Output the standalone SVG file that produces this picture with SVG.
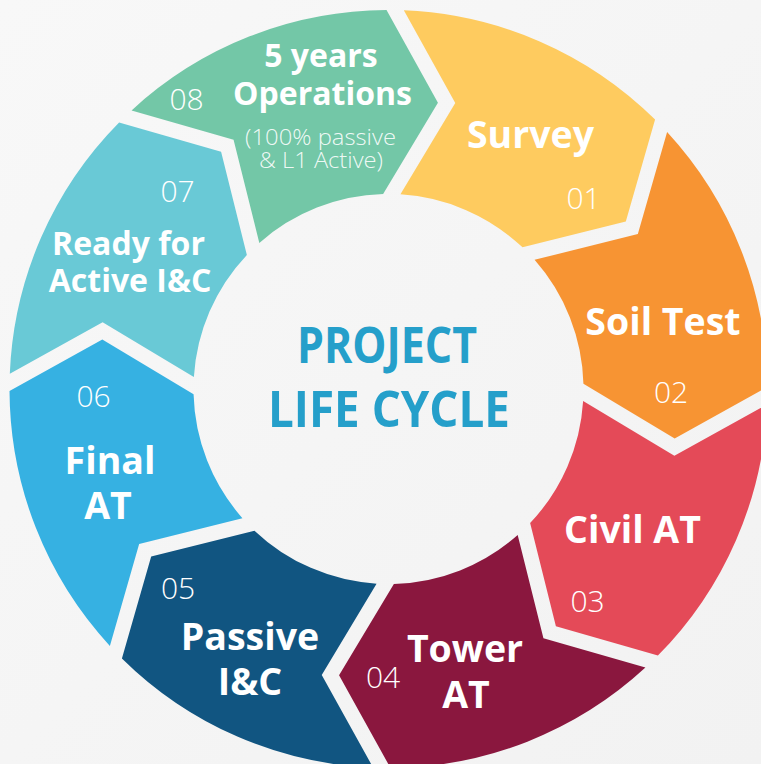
<svg xmlns="http://www.w3.org/2000/svg" xmlns:xlink="http://www.w3.org/1999/xlink" width="761" height="764" viewBox="0 0 761 764">
<defs>
<linearGradient id="bg" x1="0" y1="0" x2="1" y2="1">
<stop offset="0" stop-color="#f8f8f8"/>
<stop offset="1" stop-color="#f2f2f2"/>
</linearGradient>
<path id="seg" d="M378.9,8.72 A379,379 0 0,1 274.0,261.84 L171.52,234.36 L143.95,131.55 A195,195 0 0,0 194.81,8.55 L287,61.76 Z"/>
<style>
.lbl{font-family:"Open Sans","Liberation Sans",sans-serif;font-weight:700;font-size:37.5px;fill:#ffffff;text-anchor:middle}
.lbl32{font-size:32px}
.num{font-family:"Open Sans","Liberation Sans",sans-serif;font-weight:300;font-size:30px;fill:#ffffff;text-anchor:middle}
.sub{font-family:"Open Sans","Liberation Sans",sans-serif;font-weight:300;font-size:22px;fill:#ffffff;fill-opacity:0.9;text-anchor:middle}
.ctr{font-family:"Open Sans","Liberation Sans",sans-serif;font-weight:700;font-size:51px;fill:#259fca;text-anchor:middle}
</style>
</defs>
<rect x="0" y="0" width="761" height="764" fill="url(#bg)"/>
<g id="node-01-survey">
<use xlink:href="#seg" href="#seg" transform="translate(388.5 389) rotate(-89)" fill="#fecb5f"/>
<text class="lbl" x="530.5" y="148">Survey</text>
<text class="num" x="583.5" y="209">01</text>
</g>
<g id="node-02-soil-test">
<use xlink:href="#seg" href="#seg" transform="translate(388.5 389) rotate(-44)" fill="#f79433"/>
<text class="lbl" x="663" y="335">Soil Test</text>
<text class="num" x="671" y="403">02</text>
</g>
<g id="node-03-civil-at">
<use xlink:href="#seg" href="#seg" transform="translate(388.5 389) rotate(1)" fill="#e44a58"/>
<text class="lbl" x="632.5" y="543">Civil AT</text>
<text class="num" x="587.5" y="612">03</text>
</g>
<g id="node-04-tower-at">
<use xlink:href="#seg" href="#seg" transform="translate(388.5 389) rotate(46)" fill="#8a173e"/>
<text class="lbl" x="465" y="662">Tower</text>
<text class="lbl" x="466" y="708">AT</text>
<text class="num" x="383" y="688">04</text>
</g>
<g id="node-05-passive-ic">
<use xlink:href="#seg" href="#seg" transform="translate(388.5 389) rotate(91)" fill="#115581"/>
<text class="lbl" x="250" y="650">Passive</text>
<text class="lbl" x="250" y="695">I&amp;C</text>
<text class="num" x="178" y="599">05</text>
</g>
<g id="node-06-final-at">
<use xlink:href="#seg" href="#seg" transform="translate(388.5 389) rotate(136)" fill="#36b1e2"/>
<text class="lbl" x="110" y="474">Final</text>
<text class="lbl" x="108" y="519">AT</text>
<text class="num" x="93.5" y="407">06</text>
</g>
<g id="node-07-ready-active-ic">
<use xlink:href="#seg" href="#seg" transform="translate(388.5 389) rotate(181)" fill="#69c9d6"/>
<text class="lbl lbl32" x="128.5" y="255">Ready for</text>
<text class="lbl lbl32" x="130" y="292">Active I&amp;C</text>
<text class="num" x="177.5" y="202">07</text>
</g>
<g id="node-08-operations">
<use xlink:href="#seg" href="#seg" transform="translate(388.5 389) rotate(226)" fill="#73c7a7"/>
<text class="lbl lbl32" x="321" y="67">5 years</text>
<text class="lbl lbl32" x="322.5" y="105">Operations</text>
<text class="sub" x="320.5" y="145" textLength="151" lengthAdjust="spacingAndGlyphs">(100% passive</text>
<text class="sub" x="321" y="168" textLength="124" lengthAdjust="spacingAndGlyphs">&amp; L1 Active)</text>
<text class="num" x="186.5" y="110">08</text>
</g>
<g id="center-title">
<text class="ctr" x="387" y="363" textLength="180" lengthAdjust="spacingAndGlyphs">PROJECT</text>
<text class="ctr" x="389" y="427" textLength="242" lengthAdjust="spacingAndGlyphs">LIFE CYCLE</text>
</g>
</svg>
